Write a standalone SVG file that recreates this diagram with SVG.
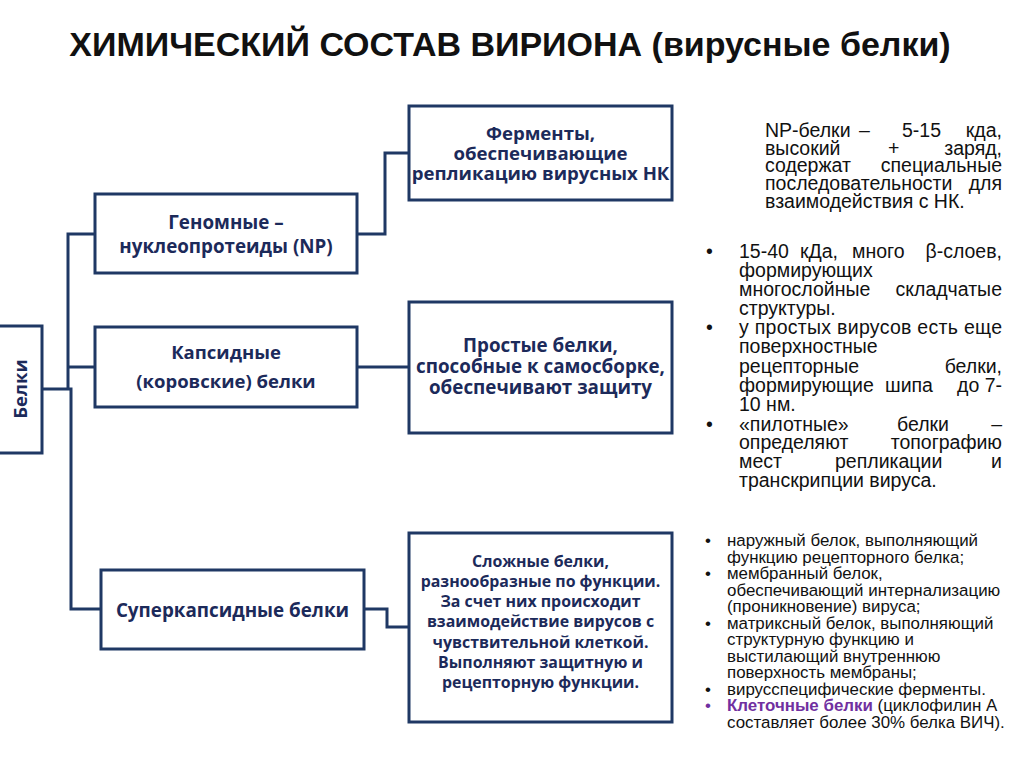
<svg xmlns="http://www.w3.org/2000/svg" width="1024" height="767" viewBox="0 0 1024 767">
<style>
.box{fill:#fff;stroke:#1f3864;stroke-width:3}
.conn{fill:none;stroke:#1f3864;stroke-width:3}
.bt{font-family:"Open Sans","Liberation Sans",sans-serif;font-weight:700;fill:#1c2a5a;text-anchor:middle}
.rt{font-family:"Liberation Sans",Arial,sans-serif;fill:#111}
.e{text-anchor:end}
</style>
<rect width="1024" height="767" fill="#fff"/>
<text x="510" y="56" font-family="Liberation Sans,Arial,sans-serif" font-weight="700" font-size="34" fill="#111" text-anchor="middle">ХИМИЧЕСКИЙ СОСТАВ ВИРИОНА (вирусные белки)</text>

<g id="connectors">
<path class="conn" d="M357 234H385V153H410"/>
<path class="conn" d="M95 234H68V389"/>
<path class="conn" d="M42 389H71V609H101"/>
<path class="conn" d="M68 367H95"/>
<path class="conn" d="M357 367H410"/>
<path class="conn" d="M364 609H387V627H410"/>
</g>

<g id="belki">
<rect class="box" x="-2" y="326" width="44" height="127"/>
<text class="bt" font-size="18.5" transform="translate(27 389) rotate(-90)">Белки</text>
</g>

<g id="genomic">
<rect class="box" x="95" y="194" width="262" height="79"/>
<text class="bt" font-size="18.8" x="226" y="229">Геномные –</text>
<text class="bt" font-size="18.8" x="226" y="253">нуклеопротеиды (NP)</text>
</g>

<g id="enzymes">
<rect class="box" x="409" y="106" width="263" height="94"/>
<text class="bt" font-size="18.6" x="540.5" y="140">Ферменты,</text>
<text class="bt" font-size="18.6" x="540.5" y="160">обеспечивающие</text>
<text class="bt" font-size="18.6" x="540.5" y="180">репликацию вирусных НК</text>
</g>

<g id="capsid">
<rect class="box" x="95" y="327" width="262" height="80"/>
<text class="bt" font-size="18.5" x="226" y="359">Капсидные</text>
<text class="bt" font-size="18.5" x="226" y="388">(коровские) белки</text>
</g>

<g id="simple">
<rect class="box" x="409" y="302" width="263" height="131"/>
<text class="bt" font-size="18.8" x="540.5" y="352">Простые белки,</text>
<text class="bt" font-size="18.8" x="540.5" y="373">способные к самосборке,</text>
<text class="bt" font-size="18.8" x="540.5" y="394">обеспечивают защиту</text>
</g>

<g id="supercapsid">
<rect class="box" x="101" y="570" width="263" height="79"/>
<text class="bt" font-size="18.8" x="232.5" y="617">Суперкапсидные белки</text>
</g>

<g id="complex">
<rect class="box" x="409" y="533" width="263" height="189"/>
<text class="bt" font-size="15.9" x="540.5" y="567">Сложные белки,</text>
<text class="bt" font-size="15.9" x="540.5" y="587">разнообразные по функции.</text>
<text class="bt" font-size="15.9" x="540.5" y="607">За счет них происходит</text>
<text class="bt" font-size="15.9" x="540.5" y="627">взаимодействие вирусов с</text>
<text class="bt" font-size="15.9" x="540.5" y="648">чувствительной клеткой.</text>
<text class="bt" font-size="15.9" x="540.5" y="668">Выполняют защитную и</text>
<text class="bt" font-size="15.9" x="540.5" y="688">рецепторную функции.</text>
</g>

<g id="note-np" class="rt" font-size="19.5">
<text y="137"><tspan x="765">NP-белки</tspan><tspan x="859">–</tspan><tspan x="902">5-15</tspan><tspan x="1002" class="e">кда,</tspan></text>
<text y="155"><tspan x="765">высокий</tspan><tspan x="888">+</tspan><tspan x="1002" class="e">заряд,</tspan></text>
<text y="172"><tspan x="765">содержат</tspan><tspan x="1002" class="e">специальные</tspan></text>
<text y="190"><tspan x="765">последовательности</tspan><tspan x="1002" class="e">для</tspan></text>
<text y="208" x="765">взаимодействия с НК.</text>
</g>

<g id="note-capsid" class="rt" font-size="19.5">
<text x="706" y="258">•</text>
<text x="706" y="334">•</text>
<text x="706" y="431">•</text>
<text y="258"><tspan x="739">15-40</tspan><tspan x="800">кДа,</tspan><tspan x="852">много</tspan><tspan x="1002" class="e">β-слоев,</tspan></text>
<text y="277" x="739">формирующих</text>
<text y="296"><tspan x="739">многослойные</tspan><tspan x="1002" class="e">складчатые</tspan></text>
<text y="315" x="739">структуры.</text>
<text y="334" x="739" textLength="263" lengthAdjust="spacing">у простых вирусов есть еще</text>
<text y="353" x="739">поверхностные</text>
<text y="373"><tspan x="739">рецепторные</tspan><tspan x="1002" class="e">белки,</tspan></text>
<text y="392"><tspan x="739">формирующие</tspan><tspan x="885">шипа</tspan><tspan x="957">до</tspan><tspan x="1002" class="e">7-</tspan></text>
<text y="411" x="739">10 нм.</text>
<text y="431"><tspan x="739">«пилотные»</tspan><tspan x="897">белки</tspan><tspan x="1002" class="e">–</tspan></text>
<text y="449"><tspan x="739">определяют</tspan><tspan x="1002" class="e">топографию</tspan></text>
<text y="468"><tspan x="739">мест</tspan><tspan x="835">репликации</tspan><tspan x="1002" class="e">и</tspan></text>
<text y="487" x="739">транскрипции вируса.</text>
</g>

<g id="note-supercapsid" class="rt" font-size="16.9">
<text x="705" y="546">•</text>
<text x="705" y="579">•</text>
<text x="705" y="629">•</text>
<text x="705" y="695">•</text>
<text x="705" y="711" fill="#7030a0">•</text>
<text x="727" y="546">наружный белок, выполняющий</text>
<text x="727" y="563">функцию рецепторного белка;</text>
<text x="727" y="579">мембранный белок,</text>
<text x="727" y="596">обеспечивающий интернализацию</text>
<text x="727" y="612">(проникновение) вируса;</text>
<text x="727" y="629">матриксный белок, выполняющий</text>
<text x="727" y="645">структурную функцию и</text>
<text x="727" y="662">выстилающий внутреннюю</text>
<text x="727" y="678">поверхность мембраны;</text>
<text x="727" y="695">вирусспецифические ферменты.</text>
<text x="727" y="711"><tspan fill="#7030a0" font-weight="700">Клеточные белки</tspan> (циклофилин А</text>
<text x="727" y="728">составляет более 30% белка ВИЧ).</text>
</g>
</svg>
